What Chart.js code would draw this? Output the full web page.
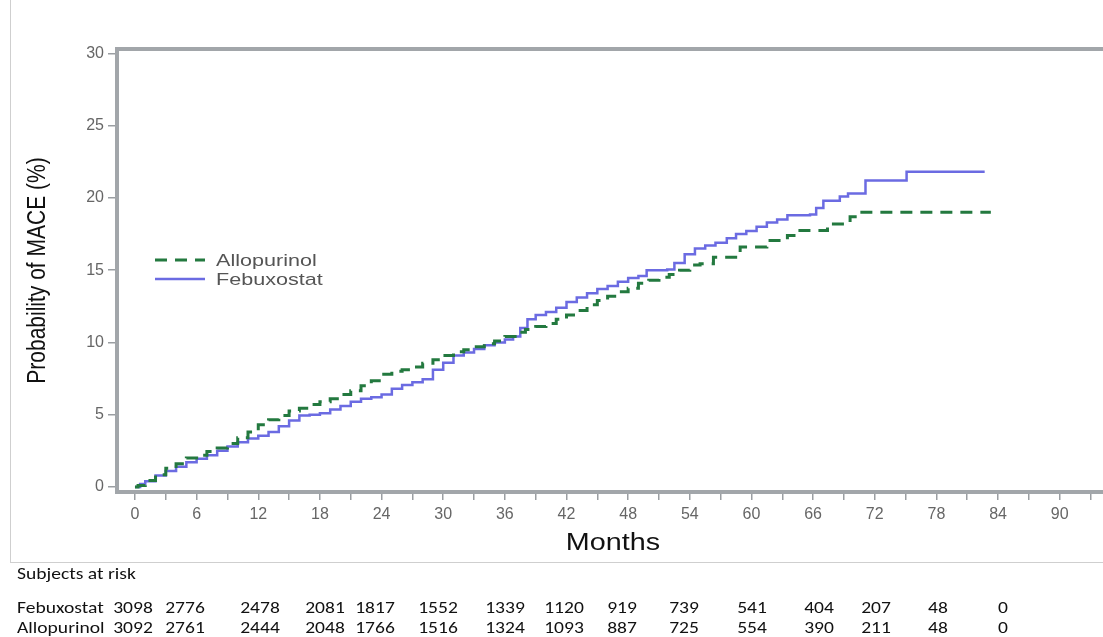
<!DOCTYPE html>
<html>
<head>
<meta charset="utf-8">
<script src="https://cdn.jsdelivr.net/npm/chart.js@4.4.1/dist/chart.umd.min.js"></script>
<style>
  html, body { margin:0; padding:0; background:#fff; }
  body { width:1103px; height:637px; overflow:hidden; position:relative; }
  #wrap { position:absolute; left:0; top:0; width:1112px; height:637px; }
  .frameV { position:absolute; left:10px; top:0; width:1px; height:562px; background:#cfcfcf; }
  .frameH { position:absolute; left:10px; top:562px; width:1093px; height:1px; background:#cfcfcf; }
  .tbl { position:absolute; font-family:'Carlito','Liberation Sans Narrow','Liberation Sans',sans-serif; font-size:17px; color:#111; white-space:nowrap; line-height:1; }
  .num { transform:translate(-50%,-50%) scaleX(1.15); }
  .lab { transform-origin:0 50%; transform:translate(0,-50%) scaleX(1.15); }
</style>
</head>
<body>
<div id="wrap"><canvas id="c" width="1112" height="637"></canvas></div>
<div class="frameV"></div>
<div class="frameH"></div>
<div id="table"></div>
<script>
// ---------------- data ----------------
const seriesNames = ['Allopurinol', 'Febuxostat'];

const febuxostatMonths = [0,0.5,1,2,3,4,5,6,7,8,9,10,11,12,13,14,15,16,17,18,19,20,21,22,23,24,25,26,27,28,29,30,31,32,33,34,35,36,36.8,37.5,38.2,39,40,41,42,43,44,45,46,47,48,49,49.8,51.8,52.5,53.5,54.5,55.5,56.5,57.6,58.5,59.5,60.5,61.5,62.5,63.5,65.7,66.3,67,68.6,69.4,71.1,75.1,82.7];
const febuxostatPct = [0,0.2,0.4,0.8,1.1,1.4,1.7,1.95,2.2,2.5,2.8,3.1,3.35,3.55,3.8,4.2,4.6,4.95,5.0,5.1,5.35,5.6,5.9,6.1,6.2,6.4,6.8,7.05,7.25,7.45,8.1,8.6,9.1,9.3,9.55,9.8,10.0,10.2,10.4,11.0,11.6,11.9,12.1,12.4,12.8,13.1,13.4,13.7,13.9,14.2,14.45,14.6,15.0,15.05,15.5,16.1,16.5,16.7,16.9,17.2,17.5,17.7,18.0,18.3,18.5,18.8,18.85,19.3,19.8,20.1,20.3,21.2,21.8,21.8];

const allopurinolMonths = [0,0.3,1,2,3,4,5,6,7,8,9,10,11,12,13,14,15,16,17,18,19,20,21,22,23,24,25,26,27,28,29,30,31,32,33,34,35,36,37,38,39,40,41,42,43,44,45,46,47,48,49,50,51,52,53,54,55,56.3,58.9,61.5,63.5,64.5,67.4,69.6,70.6,83.3];
const allopurinolPct = [0,0.1,0.45,0.85,1.3,1.6,2.0,2.2,2.45,2.7,3.0,3.4,3.8,4.3,4.65,4.95,5.25,5.45,5.7,5.9,6.1,6.4,6.65,7.0,7.35,7.8,8.0,8.1,8.3,8.55,8.8,9.1,9.35,9.5,9.7,9.9,10.1,10.4,10.7,10.9,11.1,11.3,11.6,11.9,12.2,12.6,12.9,13.2,13.5,13.75,14.1,14.3,14.5,14.7,15.0,15.35,15.45,15.9,16.6,17.05,17.4,17.75,18.2,18.7,19.0,19.0];

const xTickValues = [0,3,6,9,12,15,18,21,24,27,30,33,36,39,42,45,48,51,54,57,60,63,66,69,72,75,78,81,84,87,90,93];
const xTickLabels = ['0','6','12','18','24','30','36','42','48','54','60','66','72','78','84','90'];
const yTickValues = [0,5,10,15,20,25,30];

const xTitle = 'Months';
const yTitle = 'Probability of MACE (%)';

const atRiskTitle = 'Subjects at risk';
const atRiskFebuxostat = [3098,2776,2478,2081,1817,1552,1339,1120,919,739,541,404,207,48,0];
const atRiskAllopurinol = [3092,2761,2444,2048,1766,1516,1324,1093,887,725,554,390,211,48,0];

// ---------------- layout (not data) ----------------
const atRiskX = [133,185,260,325,375,438,505,564,622,684,752,819,876,938,1003];
const colors = { Allopurinol:'#23793f', Febuxostat:'#6b6be2' };

function pts(xs, ys){ return xs.map((x,i)=>({x:x, y:ys[i]})); }

Chart.defaults.font.family = "'Liberation Sans', Arial, sans-serif";

// draws text stretched horizontally (the reference image is widened)
function stretchedText(ctx, txt, x, y, size, color, sx, align, rotate){
  ctx.save();
  ctx.translate(x, y);
  if (rotate) { ctx.rotate(-Math.PI/2); ctx.scale(1, sx); } else { ctx.scale(sx, 1); }
  ctx.font = size + "px 'Liberation Sans', Arial, sans-serif";
  ctx.fillStyle = color;
  ctx.textAlign = align;
  ctx.textBaseline = 'middle';
  ctx.fillText(txt, 0, 0);
  ctx.restore();
}

const framePlugin = {
  id:'frame',
  afterDraw(chart){
    const {ctx, chartArea:a} = chart;
    ctx.save();
    ctx.strokeStyle = '#a2a6aa';
    ctx.lineWidth = 4;
    ctx.strokeRect(a.left, a.top, a.right - a.left, a.bottom - a.top);
    ctx.restore();
    // axis titles
    stretchedText(ctx, xTitle, (a.left + a.right)/2, 544, 23, '#111', 1.25, 'center', false);
    stretchedText(ctx, yTitle, 38, (a.top + a.bottom)/2, 21, '#111', 1.25, 'center', true);
  }
};

const legendPlugin = {
  id:'customLegend',
  afterDraw(chart){
    const ctx = chart.ctx;
    const rows = [
      {ds: chart.data.datasets[0], y: 260},
      {ds: chart.data.datasets[1], y: 279}
    ];
    ctx.save();
    rows.forEach(r => {
      ctx.beginPath();
      ctx.strokeStyle = r.ds.borderColor;
      ctx.lineWidth = r.ds.borderWidth;
      ctx.setLineDash(r.ds.borderDash || []);
      ctx.moveTo(155, r.y);
      ctx.lineTo(205, r.y);
      ctx.stroke();
      ctx.setLineDash([]);
      stretchedText(ctx, r.ds.label, 216, r.y + 1, 17, '#555', 1.27, 'left', false);
    });
    ctx.restore();
  }
};

new Chart(document.getElementById('c'), {
  type:'line',
  data:{
    datasets:[
      { label: seriesNames[0], data: pts(allopurinolMonths, allopurinolPct), borderColor: colors.Allopurinol,
        borderWidth: 3, borderDash:[12,8], stepped:true, pointRadius:0, fill:false },
      { label: seriesNames[1], data: pts(febuxostatMonths, febuxostatPct), borderColor: colors.Febuxostat,
        borderWidth: 2.5, stepped:true, pointRadius:0, fill:false }
    ]
  },
  options:{
    responsive:false,
    animation:false,
    devicePixelRatio:1,
    layout:{ padding:{ left:0, right:3, top:49, bottom:0 } },
    plugins:{ legend:{display:false}, tooltip:{enabled:false} },
    scales:{
      x:{
        type:'linear', min:-1.75, max:94.8,
        afterBuildTicks(s){ s.ticks = xTickValues.map(v=>({value:v})); },
        afterFit(s){ s.height = 145; },
        border:{display:false},
        grid:{ display:true, drawOnChartArea:false, drawTicks:true, tickLength:8, color:'#9a9ea2', lineWidth:1.5 },
        ticks:{ autoSkip:false, maxRotation:0, padding:5, color:'#666', font:{size:16},
          callback(v){ return (v % 6 === 0) ? xTickLabels[v/6] : ''; } },
        title:{ display:false }
      },
      y:{
        type:'linear', min:-0.35, max:30.3,
        afterBuildTicks(s){ s.ticks = yTickValues.map(v=>({value:v})); },
        afterFit(s){ s.width = 117; },
        border:{display:false},
        grid:{ display:true, drawOnChartArea:false, drawTicks:true, tickLength:9, color:'#9a9ea2', lineWidth:1.5 },
        ticks:{ padding:4, color:'#666', font:{size:16} },
        title:{ display:false }
      }
    }
  },
  plugins:[framePlugin, legendPlugin]
});

// ---------------- at-risk table ----------------
const tbl = document.getElementById('table');
function addText(txt, x, y, cls){
  const d = document.createElement('div');
  d.className = 'tbl ' + cls;
  d.style.left = x + 'px'; d.style.top = y + 'px';
  d.textContent = txt;
  tbl.appendChild(d);
}
addText(atRiskTitle, 17, 573, 'lab');
addText(seriesNames[1], 17, 607, 'lab');
addText(seriesNames[0], 17, 627, 'lab');
atRiskFebuxostat.forEach((v,i)=> addText(String(v), atRiskX[i], 607, 'num'));
atRiskAllopurinol.forEach((v,i)=> addText(String(v), atRiskX[i], 627, 'num'));
</script>
</body>
</html>
